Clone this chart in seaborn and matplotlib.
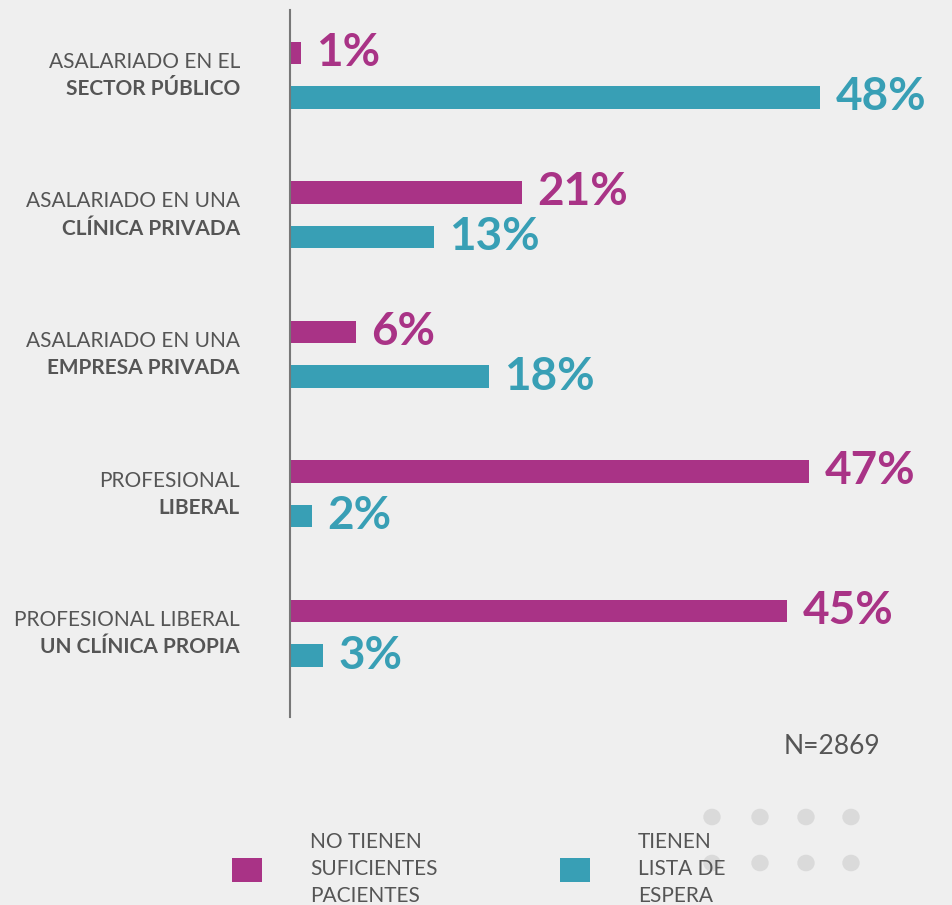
import matplotlib
matplotlib.use("Agg")
import matplotlib.pyplot as plt
from matplotlib.patches import Patch, Circle
import seaborn as sns
import pandas as pd

# ---- data ----
cat_line1 = ["ASALARIADO EN EL", "ASALARIADO EN UNA", "ASALARIADO EN UNA", "PROFESIONAL", "PROFESIONAL LIBERAL"]
cat_line2 = ["SECTOR PÚBLICO", "CLÍNICA PRIVADA", "EMPRESA PRIVADA", "LIBERAL", "UN CLÍNICA PROPIA"]
series_names = ["NO TIENEN\nSUFICIENTES\nPACIENTES", "TIENEN\nLISTA DE\nESPERA"]
no_suficientes = [1, 21, 6, 47, 45]
lista_espera = [48, 13, 18, 2, 3]
n_text = "N=2869"

colors = ["#A93386", "#389FB5"]
text_gray = "#555555"

categories = [a + " " + b for a, b in zip(cat_line1, cat_line2)]
df = pd.DataFrame({
    "cat": categories * 2,
    "serie": [series_names[0]] * 5 + [series_names[1]] * 5,
    "valor": no_suficientes + lista_espera,
})

sns.set_theme(style="white")
plt.rcParams["font.family"] = ["Lato", "DejaVu Sans"]

W, H = 953, 905
fig = plt.figure(figsize=(W / 100, H / 100), dpi=100, facecolor="#efefef")
ax = fig.add_axes([290 / W, 1 - 717 / H, (W - 290) / W, (717 - 10) / H])
ax.set_facecolor("none")

sns.barplot(data=df, y="cat", x="valor", hue="serie", orient="h",
            palette=colors, saturation=1, linewidth=0, width=0.64, gap=0.5,
            ax=ax, legend=False, order=categories, hue_order=series_names)

ax.set_xlim(0, 60)
ax.set_ylim(4.60, -0.467)
ax.set_xlabel("")
ax.set_ylabel("")
ax.set_xticks([])
ax.set_yticks([])
for s in ["top", "right", "bottom"]:
    ax.spines[s].set_visible(False)
ax.spines["left"].set_color("#777777")
ax.spines["left"].set_linewidth(1.5)

for cont, col in zip(ax.containers, colors):
    ax.bar_label(cont, labels=[f"{int(v)}%" for v in cont.datavalues],
                 padding=11, fontsize=33, fontweight="bold", color=col)

for i, (l1, l2) in enumerate(zip(cat_line1, cat_line2)):
    ax.annotate(l1, xy=(0, i), xycoords=("axes fraction", "data"),
                xytext=(-36, 9.5), textcoords="offset points",
                ha="right", va="center", fontsize=15, color=text_gray)
    ax.annotate(l2, xy=(0, i), xycoords=("axes fraction", "data"),
                xytext=(-36, -10), textcoords="offset points",
                ha="right", va="center", fontsize=15, fontweight="bold", color=text_gray)

fig.text(880 / W, 1 - 746 / H, n_text, ha="right", va="center",
         fontsize=19, color=text_gray)

# decorative dots
for (x, y) in [(712, 817), (760, 817), (806, 817), (851, 817),
               (712, 863), (760, 863), (806, 863), (851, 863)]:
    fig.patches.append(Circle((x / W, 1 - y / H), radius=8 / W,
                              transform=fig.transFigure, color="#dadada",
                              zorder=0))

handles = [Patch(facecolor=c, edgecolor="none") for c in colors]
leg = fig.legend(handles, series_names, loc="center left",
                 bbox_to_anchor=(232 / W, 1 - 869 / H), ncol=2, frameon=False,
                 fontsize=15, handlelength=1.45, handleheight=1.4,
                 handletextpad=2.3, columnspacing=5.85, borderpad=0,
                 borderaxespad=0)
for t in leg.get_texts():
    t.set_color(text_gray)
    t.set_linespacing(1.42)

fig.savefig("out.png", dpi=100, facecolor=fig.get_facecolor())
